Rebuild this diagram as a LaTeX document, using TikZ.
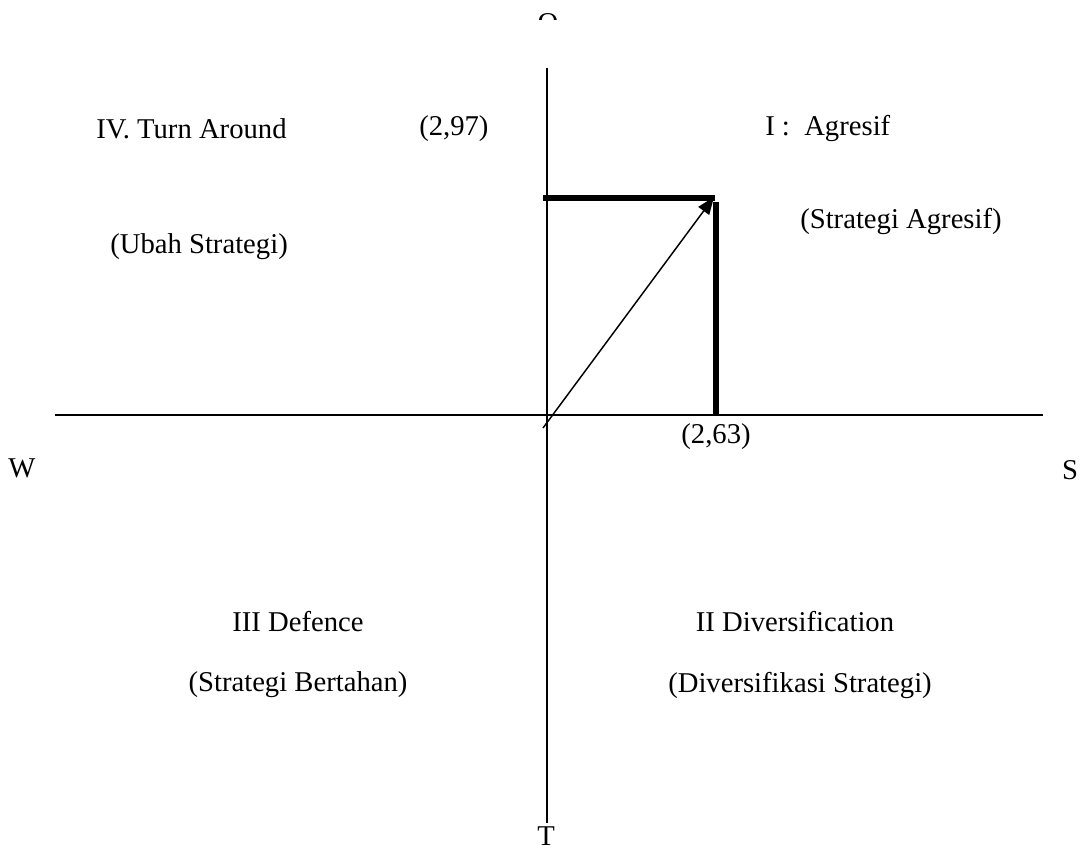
\documentclass[tikz,border=0pt]{standalone}
\usepackage{fontspec}
\setmainfont{Liberation Serif}
\usetikzlibrary{arrows.meta}
\begin{document}
\begin{tikzpicture}[x=0.75pt,y=-0.75pt,
  lbl/.style={font=\fontsize{21.5}{25}\selectfont, inner sep=0pt, anchor=center},
  lblw/.style={lbl, anchor=west},
  axis/.style={line width=1.5pt},
  thick line/.style={line width=3.8pt},
  vec/.style={line width=1.1pt,-{Triangle[length=13pt,width=10pt]}}]
\useasboundingbox (0,0) rectangle (1080,852);
% axes
\coordinate (vtop) at (547,68);
\coordinate (vbot) at (547,823);
\coordinate (hl) at (55,415);
\coordinate (hr) at (1043,415);
\draw[axis] (vtop) -- (vbot);
\draw[axis] (hl) -- (hr);
% axis labels
\begin{scope}
\clip (500,0) rectangle (600,20);
\node[lbl] (O) at (548,23) {O};
\end{scope}
\node[lbl] (T) at (546,836) {T};
\node[lbl] (W) at (22,468) {W};
\node[lbl] (S) at (1070,470) {S};
% thick bars
\coordinate (h1) at (543,198);
\coordinate (h2) at (715,198);
\coordinate (v1) at (716,202);
\coordinate (v2) at (716,415);
\draw[thick line] (h1) -- (h2);
\draw[thick line] (v1) -- (v2);
% vector
\coordinate (a0) at (543,428);
\coordinate (a1) at (714,197);
\draw[vec] (a0) -- (a1);
% labels
\node[lblw] (q4) at (96,129) {IV. Turn Around};
\node[lblw] (v297) at (419,129) {(2,97)};
\node[lblw] (q1) at (765,129) {I :\ \ Agresif};
\node[lblw] (q1s) at (800,222) {(Strategi Agresif)};
\node[lblw] (q4s) at (110,247) {(Ubah Strategi)};
\node[lbl] (v263) at (716,437) {(2,63)};
\node[lbl] (q3) at (298,622) {III Defence};
\node[lbl] (q2) at (795,622) {II Diversification};
\node[lbl] (q3s) at (298,685) {(Strategi Bertahan)};
\node[lbl] (q2s) at (800,685) {(Diversifikasi Strategi)};
\end{tikzpicture}
\end{document}
